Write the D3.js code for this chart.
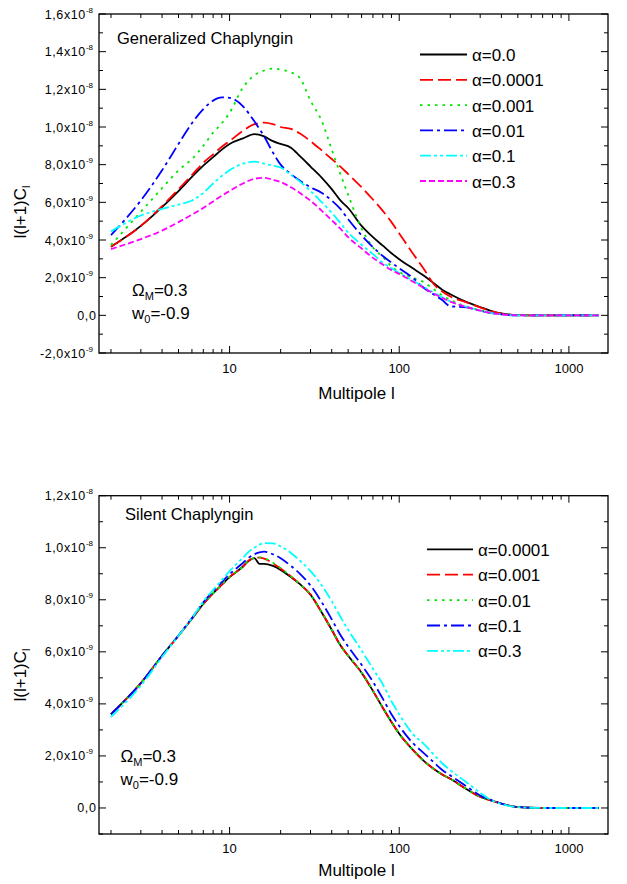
<!DOCTYPE html>
<html>
<head>
<meta charset="utf-8">
<script src="https://cdn.jsdelivr.net/npm/d3@7"></script>
<style>
  html, body { margin: 0; padding: 0; background: #fff; }
  svg { display: block; }
  text { font-family: "Liberation Sans", Arial, Helvetica, sans-serif; fill: #000; }
</style>
</head>
<body>
<svg id="chart" width="627" height="884"></svg>
<script>
// ---------------- DATA (values in units of 1e-9) ----------------
const lTop = [2,3,4,5,6,7,8,9,10,12,14,16,18,20,23,26,30,35,40,45,50,60,70,80,90,100,120,140,160,180,200,250,300,350,400,500,700,1000,1500];
const gcAlpha0     = [3.64,4.75,5.75,6.6,7.35,7.95,8.4,8.8,9.1,9.4,9.62,9.5,9.25,9.1,8.9,8.45,7.9,7.3,6.7,6.1,5.7,4.75,4.15,3.7,3.3,2.98,2.5,2.1,1.7,1.35,1.12,0.7,0.44,0.23,0.1,0.01,0,0,0];
const gcAlpha00001 = [3.64,4.75,5.8,6.7,7.45,8.1,8.55,8.95,9.25,9.8,10.15,10.23,10.15,10.0,9.9,9.65,9.25,8.75,8.3,7.9,7.5,6.8,6.15,5.55,4.95,4.35,3.3,2.45,1.65,1.25,1.0,0.68,0.42,0.22,0.09,0.01,0,0,0];
const gcAlpha0001  = [3.73,5.5,6.75,7.7,8.3,9.0,9.7,10.2,10.75,12.1,12.75,13.0,13.1,13.05,12.9,12.6,11.4,10.3,8.8,7.5,6.4,4.6,3.6,3.1,2.6,2.3,2.0,1.75,1.38,1.05,0.82,0.47,0.27,0.13,0.05,0,0,0,0];
const gcAlpha001   = [4.26,6.1,7.7,9.1,10.2,10.95,11.4,11.57,11.55,11.1,10.3,9.5,8.65,8.0,7.5,7.15,6.8,6.5,6.1,5.65,5.1,4.25,3.62,3.15,2.8,2.5,2.0,1.45,1.1,0.8,0.48,0.42,0.24,0.12,0.05,0,0,0,0];
const gcAlpha01    = [4.45,5.3,5.65,5.88,6.1,6.5,7.0,7.4,7.7,8.05,8.16,8.05,7.95,7.85,7.45,7.1,6.6,6.0,5.45,4.9,4.4,3.75,3.25,2.8,2.5,2.25,1.85,1.5,1.2,0.95,0.74,0.45,0.25,0.12,0.05,0,0,0,0];
const gcAlpha03    = [3.52,4.05,4.5,4.95,5.35,5.7,6.05,6.35,6.6,7.0,7.25,7.3,7.2,7.08,6.8,6.5,6.08,5.55,5.05,4.6,4.15,3.55,3.05,2.7,2.4,2.2,1.8,1.45,1.15,0.92,0.73,0.44,0.25,0.12,0.05,0,0,0,0];

const lBottom = [2,3,4,5,6,7,8,9,10,12,13,14,15,16,18,20,23,26,30,35,40,45,50,60,70,80,90,100,120,140,160,180,200,250,300,350,400,500,700,1000,1500];
const scAlpha00001 = [3.61,4.8,5.85,6.62,7.27,7.84,8.25,8.58,8.87,9.28,9.5,9.6,9.38,9.38,9.3,9.15,8.87,8.6,8.2,7.5,6.85,6.25,5.85,5.2,4.5,3.85,3.3,2.85,2.24,1.8,1.5,1.28,1.12,0.72,0.43,0.28,0.17,0.03,0,0,0];
const scAlpha0001  = [3.61,4.8,5.85,6.62,7.27,7.84,8.25,8.58,8.87,9.28,9.52,9.6,9.62,9.58,9.4,9.2,8.9,8.6,8.2,7.5,6.85,6.25,5.85,5.2,4.5,3.85,3.3,2.85,2.24,1.8,1.5,1.28,1.12,0.72,0.43,0.28,0.17,0.03,0,0,0];
const scAlpha001   = [3.61,4.8,5.85,6.62,7.27,7.84,8.25,8.58,8.87,9.28,9.52,9.6,9.63,9.6,9.42,9.22,8.9,8.6,8.2,7.5,6.85,6.25,5.85,5.2,4.5,3.85,3.3,2.85,2.24,1.8,1.5,1.28,1.12,0.72,0.43,0.28,0.17,0.03,0,0,0];
const scAlpha01    = [3.6,4.8,5.85,6.63,7.3,7.9,8.33,8.68,8.98,9.42,9.62,9.75,9.82,9.85,9.75,9.6,9.3,9.0,8.55,7.9,7.25,6.65,6.2,5.5,4.85,4.2,3.6,3.15,2.5,2.1,1.75,1.45,1.25,0.82,0.48,0.3,0.17,0.04,0,0,0];
const scAlpha03    = [3.5,4.7,5.8,6.62,7.3,7.93,8.38,8.75,9.1,9.62,9.85,10.0,10.12,10.18,10.17,10.05,9.8,9.5,9.1,8.55,7.95,7.35,6.85,6.05,5.35,4.75,4.1,3.6,2.85,2.45,2.05,1.7,1.45,0.98,0.58,0.3,0.15,0.03,0,0,0];

const topLegend    = ["α=0.0","α=0.0001","α=0.001","α=0.01","α=0.1","α=0.3"];
const bottomLegend = ["α=0.0001","α=0.001","α=0.01","α=0.1","α=0.3"];
const xTickLabels  = [10, 100, 1000];
const topYTicks    = [-2,0,2,4,6,8,10,12,14,16];
const bottomYTicks = [0,2,4,6,8,10,12];

// ---------------- STYLES ----------------
const styles = {
  black:   {color:"#000000", dash:null},
  red:     {color:"#ff0000", dash:"13,5"},
  green:   {color:"#00e600", dash:"2.5,5"},
  blue:    {color:"#0000ff", dash:"13,4,3,4"},
  cyan:    {color:"#00ffff", dash:"11,3,3,3,3,3"},
  magenta: {color:"#ff00ff", dash:"6,3"}
};

const svg = d3.select("#chart");

function yLabelParts(v) {
  if (v === 0) return {m:"0,0", e:null};
  const e = Math.abs(v) >= 10 ? -8 : -9;
  const m = (e === -8 ? v/10 : v).toFixed(1).replace(".", ",");
  return {m: m + "x10", e: String(e)};
}

function drawPanel(cfg) {
  const {left, right, top, bottom, yDomain, yTicks, ls, series, legend, legendPos, title, titlePos, annPos, yLabelPos, xLabelY, xTickY} = cfg;
  const g = svg.append("g");
  const x = d3.scaleLog().domain([1.7, 1700]).range([left, right]);
  const y = d3.scaleLinear().domain(yDomain).range([bottom, top]);

  // curves
  const line = d3.line()
    .x((d) => x(d[0]))
    .y((d) => y(d[1]))
    .curve(d3.curveMonotoneX);
  series.forEach((s) => {
    const pts = ls.map((l, i) => [l, s.values[i]]);
    g.append("path")
      .attr("d", line(pts))
      .attr("fill", "none")
      .attr("stroke", styles[s.style].color)
      .attr("stroke-width", 1.8)
      .attr("stroke-dasharray", styles[s.style].dash)
      .attr("stroke-linejoin", "round");
  });

  // frame
  g.append("rect")
    .attr("x", left).attr("y", top)
    .attr("width", right - left).attr("height", bottom - top)
    .attr("fill", "none").attr("stroke", "#000").attr("stroke-width", 1.3);

  // x ticks (bottom & top, inward)
  x.ticks().forEach((t) => {
    const major = Math.abs(Math.log10(t) - Math.round(Math.log10(t))) < 1e-9;
    const len = major ? 7 : 4;
    g.append("line").attr("x1", x(t)).attr("x2", x(t)).attr("y1", bottom).attr("y2", bottom - len)
      .attr("stroke", "#000").attr("stroke-width", 1);
    g.append("line").attr("x1", x(t)).attr("x2", x(t)).attr("y1", top).attr("y2", top + len)
      .attr("stroke", "#000").attr("stroke-width", 1);
  });
  xTickLabels.forEach((t) => {
    g.append("text").attr("x", x(t)).attr("y", xTickY)
      .attr("text-anchor", "middle").attr("font-size", 13).text(t);
  });

  // y ticks (left & right, inward)
  d3.range(yDomain[0], yDomain[1] + 0.001, 1).forEach((v) => {
    const major = yTicks.includes(v);
    const len = major ? 7 : 4;
    g.append("line").attr("x1", left).attr("x2", left + len).attr("y1", y(v)).attr("y2", y(v))
      .attr("stroke", "#000").attr("stroke-width", 1);
    g.append("line").attr("x1", right).attr("x2", right - len).attr("y1", y(v)).attr("y2", y(v))
      .attr("stroke", "#000").attr("stroke-width", 1);
  });
  yTicks.forEach((v) => {
    const p = yLabelParts(v);
    const t = g.append("text")
      .attr("x", p.e ? left - 6 : left - 2.5)
      .attr("y", y(v) + 4.5)
      .attr("text-anchor", "end").attr("font-size", 12.5).attr("letter-spacing", 0.6);
    t.append("tspan").text(p.m);
    if (p.e) {
      t.append("tspan").attr("dy", -6).attr("font-size", 8).attr("letter-spacing", 0).text(p.e);
    }
  });

  // axis labels
  const yl = g.append("text")
    .attr("transform", `translate(${yLabelPos[0]},${yLabelPos[1]}) rotate(-90)`)
    .attr("text-anchor", "middle").attr("font-size", 17);
  yl.append("tspan").text("l(l+1)C");
  yl.append("tspan").attr("dy", 4).attr("font-size", 11).text("l");

  g.append("text").attr("x", (left + right) / 2 + 3).attr("y", xLabelY)
    .attr("text-anchor", "middle").attr("font-size", 17).text("Multipole l");

  // title
  g.append("text").attr("x", titlePos[0]).attr("y", titlePos[1])
    .attr("font-size", 16.5).text(title);

  // annotations
  const a1 = g.append("text").attr("x", annPos[0]).attr("y", annPos[1]).attr("font-size", 17);
  a1.append("tspan").text("Ω");
  a1.append("tspan").attr("dy", 4).attr("font-size", 11).text("M");
  a1.append("tspan").attr("dy", -4).text("=0.3");
  const a2 = g.append("text").attr("x", annPos[0]).attr("y", annPos[2]).attr("font-size", 17);
  a2.append("tspan").text("w");
  a2.append("tspan").attr("dy", 4).attr("font-size", 11).text("0");
  a2.append("tspan").attr("dy", -4).text("=-0.9");

  // legend
  legend.forEach((lab, i) => {
    const s = series[i];
    const cy = legendPos.y0 + i * legendPos.dy;
    g.append("line")
      .attr("x1", legendPos.x1).attr("x2", legendPos.x2)
      .attr("y1", cy).attr("y2", cy)
      .attr("stroke", styles[s.style].color)
      .attr("stroke-width", 1.8)
      .attr("stroke-dasharray", styles[s.style].dash);
    g.append("text").attr("x", legendPos.tx).attr("y", cy + 6.5)
      .attr("font-size", 17).text(lab);
  });
}

drawPanel({
  left: 99, right: 608, top: 14, bottom: 353,
  yDomain: [-2, 16], yTicks: topYTicks, ls: lTop,
  series: [
    {values: gcAlpha0, style: "black"},
    {values: gcAlpha00001, style: "red"},
    {values: gcAlpha0001, style: "green"},
    {values: gcAlpha001, style: "blue"},
    {values: gcAlpha01, style: "cyan"},
    {values: gcAlpha03, style: "magenta"}
  ],
  legend: topLegend,
  legendPos: {x1: 420, x2: 467, tx: 472, y0: 54.5, dy: 25.3},
  title: "Generalized Chaplyngin", titlePos: [117, 43.5],
  annPos: [132, 296, 318.5],
  yLabelPos: [26, 212],
  xTickY: 373, xLabelY: 399
});

drawPanel({
  left: 99, right: 608, top: 495.7, bottom: 834,
  yDomain: [-1, 12], yTicks: bottomYTicks, ls: lBottom,
  series: [
    {values: scAlpha00001, style: "black"},
    {values: scAlpha0001, style: "red"},
    {values: scAlpha001, style: "green"},
    {values: scAlpha01, style: "blue"},
    {values: scAlpha03, style: "cyan"}
  ],
  legend: bottomLegend,
  legendPos: {x1: 427, x2: 473, tx: 478, y0: 549.3, dy: 25.4},
  title: "Silent Chaplyngin", titlePos: [125, 520],
  annPos: [120.5, 762, 785],
  yLabelPos: [26, 675],
  xTickY: 852.5, xLabelY: 875.5
});
</script>
</body>
</html>
